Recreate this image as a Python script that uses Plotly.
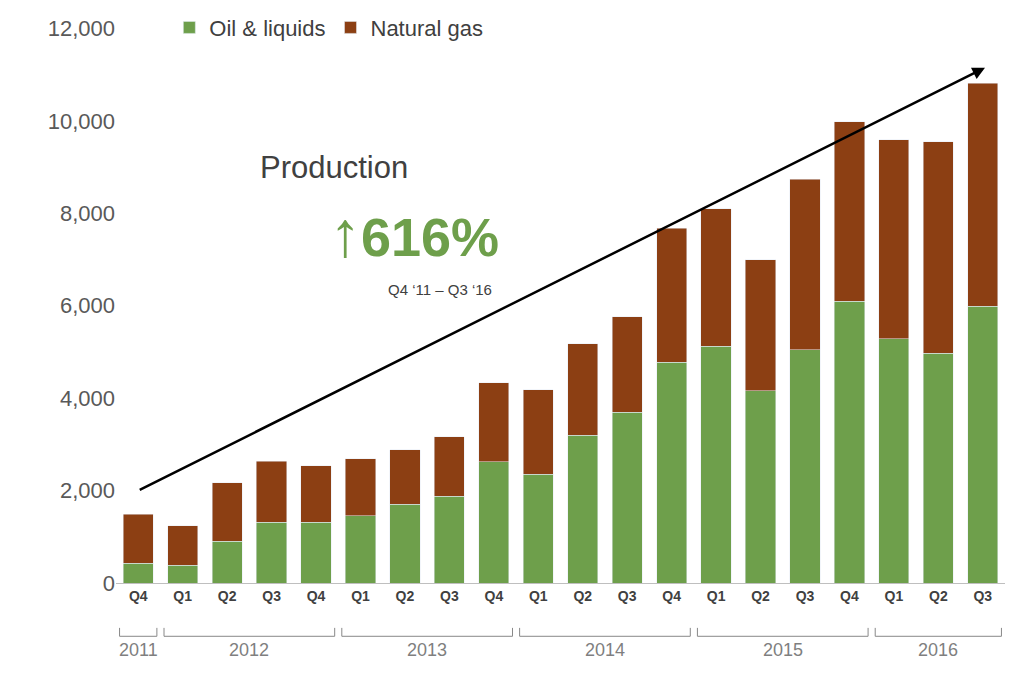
import plotly.graph_objects as go

quarters = ["Q4","Q1","Q2","Q3","Q4","Q1","Q2","Q3","Q4","Q1","Q2","Q3","Q4","Q1","Q2","Q3","Q4","Q1","Q2","Q3"]
oil = [430,380,900,1320,1320,1450,1700,1880,2620,2350,3200,3690,4780,5120,4160,5050,6100,5290,4970,5990]
total = [1490,1240,2170,2640,2540,2690,2880,3160,4330,4180,5180,5760,7680,8100,6990,8740,9980,9590,9550,10810]
gas = [t-o for t, o in zip(total, oil)]
years = ["2011","2012","2013","2014","2015","2016"]
year_spans = [(0,0),(1,4),(5,8),(9,12),(13,16),(17,19)]

x = list(range(len(quarters)))
fig = go.Figure()
fig.add_bar(x=x, y=oil, name="Oil & liquids", marker_color="#6e9f4b", width=0.68)
fig.add_bar(x=x, y=gas, name="Natural gas", marker_color="#8c3f13", width=0.68)

shapes = []
anns = []
for yr, (a, b) in zip(years, year_spans):
    x0, x1 = a-0.42, b+0.42
    shapes.append(dict(type="line", xref="x", yref="paper", x0=x0, x1=x1, y0=-0.095, y1=-0.095, line=dict(color="#888", width=1)))
    for xx in (x0, x1):
        shapes.append(dict(type="line", xref="x", yref="paper", x0=xx, x1=xx, y0=-0.095, y1=-0.08, line=dict(color="#888", width=1)))
    anns.append(dict(x=(a+b)/2, y=-0.14, xref="x", yref="paper", text=yr, showarrow=False, font=dict(size=18, color="#7f7f7f")))

anns.append(dict(x=19.05, y=11150, ax=0, ay=2000, xref="x", yref="y", axref="x", ayref="y", text="", showarrow=True, arrowhead=2, arrowsize=1, arrowwidth=2.5, arrowcolor="black"))
anns.append(dict(x=4.4, y=9000, xref="x", yref="y", text="Production", showarrow=False, font=dict(size=31, color="#404040"), xanchor="center"))
anns.append(dict(x=6.2, y=7550, xref="x", yref="y", text="<b><span style='font-size:64px'>↑</span>616%</b>", showarrow=False, font=dict(size=54, color="#6e9f4b"), xanchor="center"))
anns.append(dict(x=6.8, y=6350, xref="x", yref="y", text="Q4 ‘11 – Q3 ‘16", showarrow=False, font=dict(size=15, color="#404040"), xanchor="center"))

fig.update_layout(
    barmode="stack", width=1024, height=675, plot_bgcolor="white", paper_bgcolor="white",
    margin=dict(l=108, r=27, t=14, b=100, autoexpand=False),
    font=dict(family="Liberation Sans Narrow, Arial", color="#595959"),
    legend=dict(orientation="h", x=0.06, y=0.99, yanchor="middle", traceorder="normal", font=dict(size=22, color="#404040")),
    shapes=shapes, annotations=anns, bargap=0.32,
)
fig.update_xaxes(tickvals=x, ticktext=["<b>%s</b>" % q for q in quarters], range=[-0.5, 19.5],
                 showline=True, linecolor="#bfbfbf", tickfont=dict(size=14, color="#404040"), showgrid=False)
fig.update_yaxes(range=[0, 12140], tickvals=[0,2000,4000,6000,8000,10000,12000], tickformat=",", showgrid=False, zeroline=False,
                 tickfont=dict(size=22, color="#595959"), ticks="", ticklen=10, tickcolor="white")
fig.write_html("out.html")
